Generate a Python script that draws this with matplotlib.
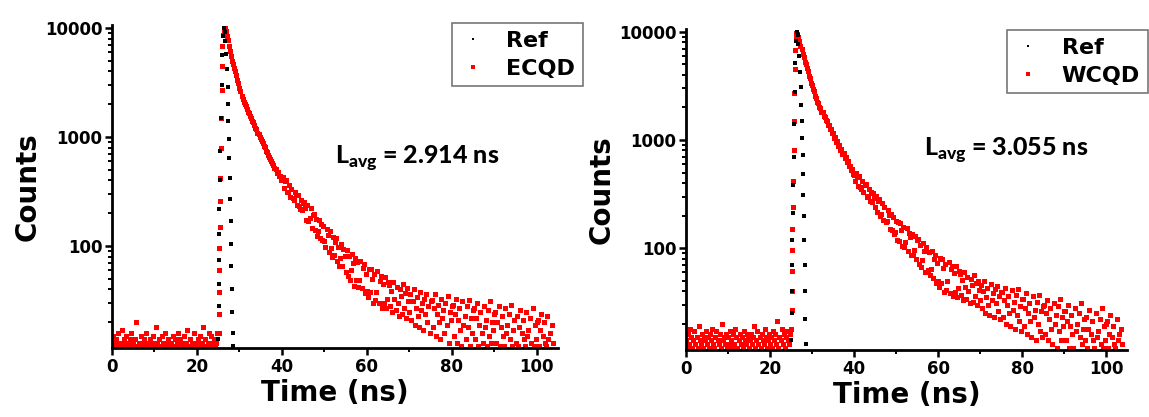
import numpy as np
import matplotlib.pyplot as plt
from matplotlib.ticker import FixedLocator, FixedFormatter, LogLocator, NullFormatter, MultipleLocator

plt.rcParams['font.family'] = 'DejaVu Sans'
plt.rcParams['font.weight'] = 'bold'
plt.rcParams['mathtext.fontset'] = 'custom'
plt.rcParams['mathtext.bf'] = 'Lato:black'
plt.rcParams['mathtext.rm'] = 'Lato:black'

# TCSPC channel width used for the read-off counts (ns)
bin_ns = 0.25
bg_start = 0.0       # background channels start here
decay_start = 26.25  # decay channels start here

# ---------------- left panel: Ref + ECQD ----------------
ecqd_bg = [
    12, 15, 13, 11, 14, 12, 16, 13, 12, 17, 13, 14, 12, 15, 11, 13, 12, 14, 16, 12,
    13, 12, 14, 20, 12, 13, 11, 15, 12, 13, 14, 12, 16, 13, 12, 11, 14, 12, 13, 15,
    12, 18, 13, 12, 14, 11, 12, 15, 13, 12, 16, 12, 13, 14, 12, 11, 13, 15, 12, 14,
    12, 13, 16, 12, 14, 11, 13, 12, 15, 12, 13, 17, 12, 14, 12, 13, 11, 16, 12, 13,
    12, 14, 13, 15, 12, 13, 18, 12, 14, 12, 13, 16, 12, 15, 13, 12, 14, 12, 13, 16,
]
ecqd_rise_t = [25.1, 25.15, 25.2, 25.25, 25.3, 25.35, 25.4, 25.5, 25.6, 25.7, 25.8, 25.9, 26.0, 26.1]
ecqd_rise_c = [16, 24, 38, 60, 95, 150, 260, 420, 800, 1500, 2700, 4500, 6800, 8600]
ecqd_decay = [
    9500, 9900, 9400, 8500, 7700, 6900, 6150, 5500, 5000, 4700,
    4250, 4000, 3700, 3350, 3120, 2830, 2630, 2380, 2240, 2100,
    2020, 1910, 1820, 1700, 1660, 1550, 1500, 1400, 1360, 1280,
    1220, 1180, 1090, 1060, 995, 960, 915, 880, 825, 805,
    750, 730, 690, 660, 625, 605, 575, 548, 520, 512,
    470, 478, 440, 442, 402, 415,
    427, 339, 392, 399, 311, 312, 360, 280, 334, 273, 263, 312, 293, 236, 292, 233, 219, 263, 214, 249,
    253, 225, 175, 238, 169, 181, 222, 147, 191, 196, 139, 178, 123, 138, 174, 118, 158, 114, 152, 110,
    98, 143, 125, 88, 138, 96, 80, 122, 83, 109, 118, 73, 97, 65, 77, 105, 66, 94, 81, 58,
    91, 53, 81, 49, 60, 85, 70, 43, 78, 49, 71, 42, 49, 73, 41, 63, 68, 37, 55, 39,
    34, 61, 38, 62, 50, 30, 55, 32, 38, 59, 30, 48, 53, 27, 45, 30, 52, 27, 33, 47,
    44, 28, 39, 25, 47, 33, 26, 42, 30, 23, 40, 35, 24, 45, 27, 37, 22, 41, 31, 25,
    36, 21, 31, 40, 19, 27, 34, 23, 18, 38, 26, 30, 17, 33, 24, 36, 20, 28, 16, 31,
    32, 18, 27, 36, 15, 24, 29, 20, 14, 33, 22, 26, 16, 30, 19, 35, 13, 25, 21, 28,
    29, 15, 24, 33, 13, 21, 27, 17, 12, 31, 19, 23, 14, 28, 18, 32, 12, 22, 16, 26,
    27, 14, 22, 30, 12, 19, 25, 16, 13, 28, 18, 21, 12, 26, 15, 31, 13, 20, 17, 24,
    25, 13, 20, 28, 12, 18, 23, 15, 12, 27, 16, 19, 11, 24, 14, 29, 12, 17, 21, 13,
    23, 12, 18, 26, 11, 16, 21, 14, 12, 25, 15, 17, 11, 22, 13, 27, 12, 19, 14, 20,
    21, 12, 17, 24, 11, 15, 20, 13, 12, 23, 14, 16, 11, 19, 13,
]
ref1_t = [25.0, 25.1, 25.15, 25.2, 25.25, 25.3, 25.4, 25.5, 25.65, 25.8, 25.95, 26.1, 26.3,
          26.5, 26.7, 26.9, 27.05, 27.2, 27.3, 27.4, 27.5, 27.6, 27.7, 27.8, 27.9, 28.0,
          28.1, 28.2, 28.3, 28.4, 28.5]
ref1_c = [14, 28, 45, 75, 130, 220, 400, 750, 1500, 3000, 5600, 8500, 9900,
          9200, 7600, 5800, 4200, 2900, 2000, 1400, 950, 640, 420, 270, 170, 105,
          65, 40, 25, 16, 12]

# ---------------- right panel: Ref + WCQD ----------------
wcqd_bg = [
    14, 12, 16, 13, 18, 15, 12, 14, 17, 13, 15, 12, 19, 14, 13, 16, 12, 15, 14, 17,
    13, 15, 12, 16, 14, 18, 13, 12, 15, 17, 14, 13, 16, 12, 20, 14, 15, 13, 16, 12,
    15, 13, 17, 14, 12, 16, 13, 18, 15, 12, 14, 16, 13, 15, 12, 17, 14, 13, 16, 15,
    12, 14, 16, 13, 15, 19, 12, 14, 17, 13, 15, 12, 16, 14, 13, 18, 15, 12, 14, 16,
    13, 15, 12, 17, 14, 16, 13, 21, 12, 15, 14, 18, 13, 16, 12, 15, 17, 14, 13, 16,
]
wcqd_rise_t = [25.1, 25.15, 25.2, 25.25, 25.3, 25.35, 25.4, 25.5, 25.6, 25.7, 25.8, 25.9, 26.0, 26.1]
wcqd_rise_c = [18, 27, 40, 62, 95, 150, 240, 420, 800, 1500, 2700, 4500, 6800, 8800]
wcqd_decay = [
    9700, 9600, 8900, 8300, 7400, 7000, 6200, 5900, 5300, 5050,
    4600, 4350, 3950, 3750, 3400, 3250, 2940, 2820, 2560, 2470,
    2250, 2190, 2010, 1990, 1820, 1810, 1660, 1650, 1520, 1510,
    1380, 1380, 1260, 1270, 1150, 1160, 1050, 1070, 965, 975,
    885, 895, 815, 820, 745, 755, 680, 690, 625, 635,
    575, 580, 528, 535, 485, 478,
    416, 494, 458, 373, 461, 369, 351, 417, 331, 387, 390, 297, 306, 352, 274, 332, 265, 320, 292, 238,
    301, 217, 273, 282, 197, 205, 261, 181, 238, 173, 178, 223, 202, 149, 207, 146, 192, 136, 142, 179,
    118, 174, 116, 170, 147, 104, 156, 102, 113, 153, 94, 138, 127, 87, 134, 86, 95, 128, 79, 119,
    121, 71, 107, 67, 78, 111, 94, 60, 102, 63, 92, 56, 64, 94, 53, 80, 87, 48, 73, 50,
    44, 81, 48, 79, 65, 39, 71, 41, 50, 74, 38, 64, 68, 36, 59, 39, 68, 35, 43, 62,
    57, 37, 51, 33, 60, 44, 34, 54, 40, 31, 52, 46, 32, 56, 36, 48, 30, 50, 41, 33,
    46, 28, 40, 50, 25, 35, 43, 30, 24, 47, 33, 38, 23, 42, 31, 45, 26, 36, 22, 39,
    39, 23, 33, 43, 20, 30, 36, 25, 19, 41, 27, 32, 18, 37, 24, 42, 21, 29, 17, 34,
    34, 19, 28, 38, 16, 25, 31, 21, 15, 36, 23, 27, 14, 32, 20, 37, 17, 26, 15, 29,
    30, 16, 25, 33, 14, 22, 28, 18, 13, 31, 20, 24, 12, 29, 17, 34, 14, 23, 19, 26,
    26, 14, 21, 30, 12, 19, 24, 16, 12, 28, 17, 20, 11, 25, 15, 31, 13, 18, 22, 14,
    23, 12, 18, 27, 11, 16, 21, 14, 12, 25, 15, 17, 11, 22, 13, 28, 12, 19, 14, 20,
    21, 12, 16, 24, 11, 15, 19, 13, 12, 22, 14, 16, 11, 18, 13,
]
ref2_t = [25.05, 25.15, 25.2, 25.25, 25.3, 25.4, 25.5, 25.6, 25.75, 25.9, 26.05, 26.2, 26.35,
          26.55, 26.75, 26.95, 27.15, 27.3, 27.45, 27.55, 27.65, 27.75, 27.85, 27.95,
          28.05, 28.15, 28.25, 28.35, 28.45, 28.55]
ref2_c = [14, 25, 40, 70, 120, 210, 380, 700, 1400, 2800, 5200, 8200, 9900,
          9300, 7800, 6000, 4300, 3100, 2100, 1500, 1050, 720, 480, 310,
          200, 120, 70, 40, 22, 13]

panels = [
    dict(name='ECQD', bg=ecqd_bg, rt=ecqd_rise_t, rc=ecqd_rise_c, decay=ecqd_decay,
         reft=ref1_t, refc=ref1_c, tau='2.914', txt=(52.5, 640),
         rect=[112 / 1149, 1 - 348 / 417, 446 / 1149, 323 / 417], ymin=11.6,
         leg=(1.056, 1.006)),
    dict(name='WCQD', bg=wcqd_bg, rt=wcqd_rise_t, rc=wcqd_rise_c, decay=wcqd_decay,
         reft=ref2_t, refc=ref2_c, tau='3.055', txt=(56.6, 800),
         rect=[686 / 1149, 1 - 350 / 417, 441 / 1149, 321 / 417], ymin=11.4,
         leg=(1.047, 0.997)),
]

fig = plt.figure(figsize=(11.49, 4.17), dpi=100)

for p in panels:
    ax = fig.add_axes(p['rect'])
    t_bg = bg_start + bin_ns * np.arange(len(p['bg']))
    t_dec = decay_start + bin_ns * np.arange(len(p['decay']))
    t_s = np.concatenate([t_bg, p['rt'], t_dec])
    c_s = np.concatenate([p['bg'], p['rc'], p['decay']])

    ax.plot(p['reft'], p['refc'], ls='none', marker='s', ms=2.4, mew=0,
            color='black', label='Ref', zorder=3)
    ax.plot(t_s, c_s, ls='none', marker='s', ms=3.6, mew=0,
            color='#ff0000', label=p['name'], zorder=2)

    ax.set_yscale('log')
    ax.set_xlim(0, 105)
    ax.set_ylim(p['ymin'], 10650)

    ax.yaxis.set_major_locator(FixedLocator([100, 1000, 10000]))
    ax.yaxis.set_major_formatter(FixedFormatter(['100', '1000', '10000']))
    ax.yaxis.set_minor_locator(LogLocator(base=10, subs=np.arange(2, 10)))
    ax.yaxis.set_minor_formatter(NullFormatter())
    ax.xaxis.set_major_locator(MultipleLocator(20))
    ax.xaxis.set_minor_locator(MultipleLocator(10))

    for side in ['top', 'right']:
        ax.spines[side].set_visible(False)
    for side in ['left', 'bottom']:
        ax.spines[side].set_linewidth(2)
    ax.tick_params(which='major', direction='out', length=5, width=1.8,
                   labelsize=12, pad=2)
    ax.tick_params(which='minor', direction='out', length=3, width=1.4)
    for lab in ax.get_xticklabels() + ax.get_yticklabels():
        lab.set_fontweight('bold')

    ax.set_xlabel('Time (ns)', fontsize=20, fontweight='bold', labelpad=2)
    ax.set_ylabel('Counts', fontsize=20, fontweight='bold', labelpad=2)

    leg = ax.legend(loc='upper right', bbox_to_anchor=p['leg'], borderaxespad=0,
                    frameon=True, fancybox=False, fontsize=16, markerscale=0.7,
                    handlelength=1.2, handletextpad=0.9, labelspacing=0.35,
                    borderpad=0.35)
    leg.get_frame().set_edgecolor('#555555')
    leg.get_frame().set_linewidth(1.2)
    for t in leg.get_texts():
        t.set_fontweight('bold')

    ax.text(p['txt'][0], p['txt'][1], r'L$_{\mathbf{avg}}$ = ' + p['tau'] + ' ns',
            fontsize=18, fontweight='black', family=['Lato', 'DejaVu Sans'],
            ha='left', va='center')

fig.savefig('out.png', dpi=100)
